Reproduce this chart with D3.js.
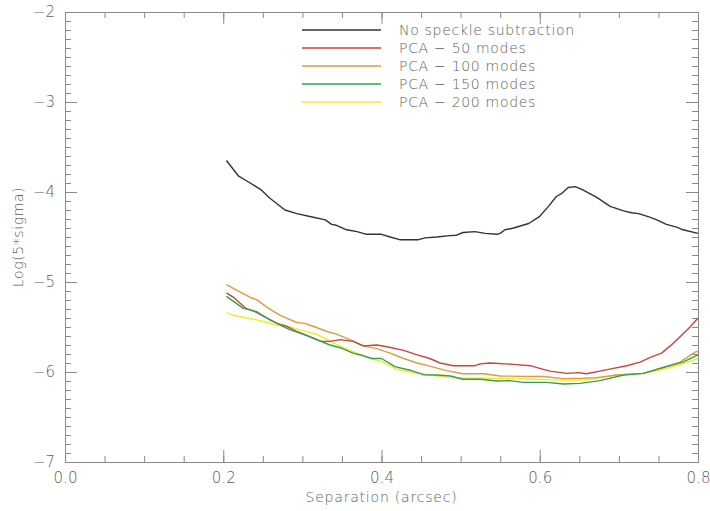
<!DOCTYPE html>
<html>
<head>
<meta charset="utf-8">
<script src="https://cdn.jsdelivr.net/npm/d3@7"></script>
<style>
  body { margin: 0; background: #fff; }
  text { font-family: "DejaVu Sans", sans-serif; font-weight: 200; fill: #5e5e5e; }
  .axis path, .axis line { stroke: #8a8a8a; }
</style>
</head>
<body>
<div id="chart"></div>
<script>
var svgWidth = 710;
var svgHeight = 511;

var margin = { top: 12, right: 12, bottom: 49, left: 65 };
var width = svgWidth - margin.left - margin.right;
var height = svgHeight - margin.top - margin.bottom;

// tick values
var xMajor = [0.0, 0.2, 0.4, 0.6, 0.8];
var yMajor = [-7, -6, -5, -4, -3, -2];

// series names and colours
var seriesNames = ["No speckle subtraction", "PCA \u2212 50 modes", "PCA \u2212 100 modes", "PCA \u2212 150 modes", "PCA \u2212 200 modes"];
var seriesColors = ["#333333", "#c8453a", "#dd9c3c", "#35a04c", "#f0ec2a"];

// separation (arcsec) and log(5*sigma)
var noSub = [
  [0.204, -3.65], [0.219, -3.82], [0.234, -3.90], [0.247, -3.97], [0.259, -4.07], [0.278, -4.20],
  [0.293, -4.24], [0.308, -4.27], [0.314, -4.28], [0.329, -4.31], [0.337, -4.36], [0.343, -4.37],
  [0.356, -4.42], [0.369, -4.44], [0.381, -4.47], [0.400, -4.47], [0.411, -4.50], [0.423, -4.53],
  [0.436, -4.53], [0.447, -4.53], [0.455, -4.51], [0.470, -4.50], [0.486, -4.485], [0.495, -4.48],
  [0.503, -4.45], [0.518, -4.44], [0.531, -4.46], [0.546, -4.47], [0.550, -4.46], [0.556, -4.42],
  [0.567, -4.40], [0.586, -4.35], [0.600, -4.27], [0.611, -4.16], [0.621, -4.05], [0.628, -4.015],
  [0.636, -3.95], [0.645, -3.94], [0.655, -3.98], [0.672, -4.06], [0.689, -4.16], [0.706, -4.21],
  [0.716, -4.23], [0.725, -4.24], [0.739, -4.28], [0.748, -4.31], [0.760, -4.36], [0.773, -4.39],
  [0.781, -4.42], [0.800, -4.46]
];
var pca50 = [
  [0.204, -5.12], [0.213, -5.17], [0.228, -5.29], [0.240, -5.33], [0.255, -5.40], [0.268, -5.46],
  [0.280, -5.49], [0.293, -5.55], [0.310, -5.61], [0.324, -5.66], [0.335, -5.66], [0.348, -5.64],
  [0.364, -5.66], [0.377, -5.71], [0.394, -5.70], [0.407, -5.72], [0.428, -5.76], [0.445, -5.81],
  [0.461, -5.85], [0.474, -5.90], [0.491, -5.93], [0.518, -5.93], [0.525, -5.91], [0.537, -5.90],
  [0.567, -5.915], [0.588, -5.93], [0.600, -5.96], [0.613, -5.99], [0.634, -6.015], [0.649, -6.007],
  [0.659, -6.02], [0.676, -5.99], [0.693, -5.96], [0.710, -5.93], [0.727, -5.89], [0.739, -5.84],
  [0.754, -5.79], [0.765, -5.71], [0.777, -5.61], [0.790, -5.50], [0.800, -5.40]
];
var pca100 = [
  [0.204, -5.03], [0.221, -5.11], [0.236, -5.18], [0.241, -5.19], [0.257, -5.29], [0.272, -5.37],
  [0.293, -5.45], [0.303, -5.46], [0.316, -5.50], [0.331, -5.55], [0.343, -5.58], [0.360, -5.64],
  [0.377, -5.71], [0.394, -5.74], [0.411, -5.79], [0.428, -5.85], [0.445, -5.90], [0.461, -5.935],
  [0.482, -5.985], [0.503, -6.02], [0.529, -6.02], [0.550, -6.044], [0.588, -6.05], [0.605, -6.05],
  [0.630, -6.074], [0.655, -6.07], [0.672, -6.063], [0.697, -6.033], [0.731, -6.015], [0.752, -5.96],
  [0.777, -5.89], [0.798, -5.77], [0.800, -5.78]
];
var pca150 = [
  [0.204, -5.16], [0.225, -5.29], [0.242, -5.33], [0.259, -5.42], [0.284, -5.53], [0.301, -5.58],
  [0.318, -5.64], [0.335, -5.70], [0.348, -5.73], [0.364, -5.79], [0.377, -5.82], [0.388, -5.85],
  [0.400, -5.85], [0.417, -5.94], [0.436, -5.98], [0.453, -6.03], [0.470, -6.033], [0.487, -6.044],
  [0.503, -6.08], [0.525, -6.08], [0.546, -6.10], [0.562, -6.096], [0.579, -6.115], [0.609, -6.115],
  [0.630, -6.133], [0.651, -6.126], [0.676, -6.096], [0.706, -6.033], [0.731, -6.015], [0.756, -5.95],
  [0.781, -5.89], [0.800, -5.81]
];
var pca200 = [
  [0.204, -5.34], [0.213, -5.37], [0.230, -5.40], [0.247, -5.43], [0.268, -5.48], [0.284, -5.50],
  [0.301, -5.54], [0.318, -5.58], [0.335, -5.66], [0.352, -5.73], [0.369, -5.79], [0.386, -5.85],
  [0.402, -5.89], [0.419, -5.97], [0.436, -6.00], [0.461, -6.033], [0.487, -6.063], [0.512, -6.07],
  [0.546, -6.07], [0.588, -6.08], [0.630, -6.09], [0.659, -6.09], [0.697, -6.033], [0.731, -6.015],
  [0.756, -5.97], [0.781, -5.91], [0.800, -5.85]
];
var seriesData = [noSub, pca50, pca100, pca150, pca200];

var svg = d3.select("#chart")
  .append("svg")
  .attr("width", svgWidth)
  .attr("height", svgHeight);

var chart = svg.append("g")
  .attr("transform", `translate(${margin.left}, ${margin.top})`);

var xScale = d3.scaleLinear().domain([0, 0.8]).range([0, width]);
var yScale = d3.scaleLinear().domain([-7, -2]).range([height, 0]);

var xMinor = d3.range(0, 0.8001, 0.05);
var yMinor = d3.range(-7, -1.999, 0.1);

function drawAxis(axisFn, scale, tr, major, minor, fmt) {
  // minor ticks, no labels
  chart.append("g")
    .attr("class", "axis")
    .attr("transform", tr)
    .call(axisFn(scale).tickValues(minor).tickSize(-6).tickFormat(""))
    .call(function (g) { g.select(".domain").remove(); });
  // major ticks + domain line
  var g = chart.append("g")
    .attr("class", "axis")
    .attr("transform", tr)
    .call(axisFn(scale).tickValues(major).tickSizeInner(-12).tickSizeOuter(0)
      .tickPadding(fmt ? 10 : 0).tickFormat(fmt ? fmt : ""));
  g.selectAll("text").style("font-size", "15px").attr("fill", null);
  return g;
}

drawAxis(d3.axisBottom, xScale, `translate(0, ${height})`, xMajor, xMinor, d3.format(".1f"));
drawAxis(d3.axisTop, xScale, "translate(0, 0)", xMajor, xMinor, null);
drawAxis(d3.axisLeft, yScale, "translate(0, 0)", yMajor, yMinor, d3.format("d"));
drawAxis(d3.axisRight, yScale, `translate(${width}, 0)`, yMajor, yMinor, null);

// curves
var line = d3.line()
  .x(function (d) { return xScale(d[0]); })
  .y(function (d) { return yScale(d[1]); });

// draw in an order so the colours overlap like the picture
[0, 4, 2, 1, 3].forEach(function (i) {
  chart.append("path")
    .datum(seriesData[i])
    .attr("fill", "none")
    .attr("stroke", seriesColors[i])
    .attr("stroke-width", 1.4)
    .attr("stroke-linejoin", "round")
    .attr("d", line);
});

// legend
var legend = svg.append("g").attr("transform", "translate(302, 30)");
seriesNames.forEach(function (name, i) {
  legend.append("line")
    .attr("x1", 0).attr("x2", 79)
    .attr("y1", i * 18).attr("y2", i * 18)
    .attr("stroke", seriesColors[i])
    .attr("stroke-width", 1.4);
  legend.append("text")
    .attr("x", 97)
    .attr("y", i * 18 + 5)
    .style("font-size", "14px")
    .style("letter-spacing", "0.7px")
    .text(name);
});

// axis titles
svg.append("text")
  .attr("x", margin.left + width / 2)
  .attr("y", 502)
  .attr("text-anchor", "middle")
  .style("font-size", "14px")
  .style("letter-spacing", "0.8px")
  .text("Separation (arcsec)");

svg.append("text")
  .attr("transform", `translate(23, ${margin.top + height / 2}) rotate(-90)`)
  .attr("text-anchor", "middle")
  .style("font-size", "14px")
  .style("letter-spacing", "0.6px")
  .text("Log(5*sigma)");
</script>
</body>
</html>
